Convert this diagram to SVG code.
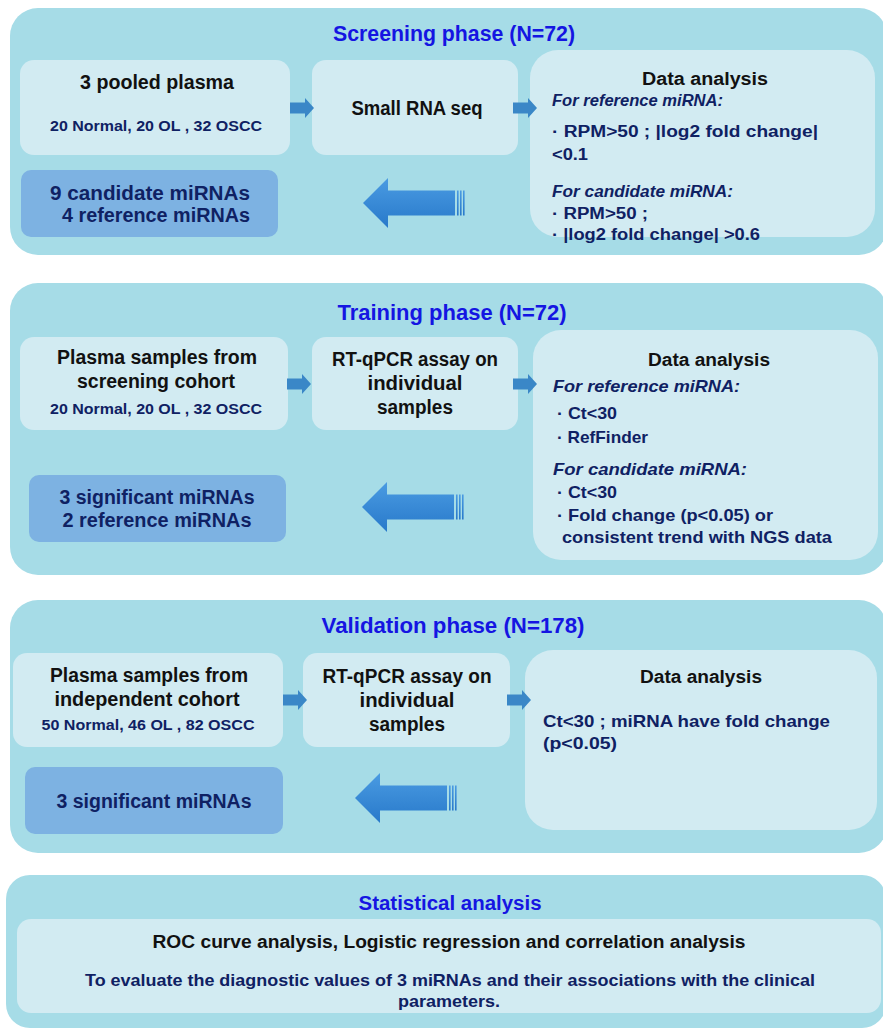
<svg xmlns="http://www.w3.org/2000/svg" xmlns:xlink="http://www.w3.org/1999/xlink" width="883" height="1030" viewBox="0 0 883 1030">
<defs>
<style>
text{font-family:"Liberation Sans",Arial,sans-serif;font-weight:bold}
.panel{fill:#a6dce7}
.box{fill:#d2ebf2}
.blue{fill:#7db2e2}
.title{fill:#1515e2;font-size:22px;text-anchor:middle}
.hd{fill:#111;font-size:20px;text-anchor:middle}
.sub{fill:#0f2163;font-size:14px;text-anchor:middle}
.res{fill:#0f2163;font-size:19.5px;text-anchor:middle}
.dh{fill:#111;font-size:17.5px;text-anchor:middle}
.it{fill:#0f2163;font-size:16px;font-style:italic}
.bl{fill:#0f2163;font-size:16px}
.it2{fill:#0f2163;font-size:17px;font-style:italic}
.bl2{fill:#0f2163;font-size:17px}
.sarrow{fill:#3a87c7}
</style>
<linearGradient id="bg" x1="0" y1="0" x2="0" y2="1">
<stop offset="0" stop-color="#4a9be2"/>
<stop offset="1" stop-color="#2879ca"/>
</linearGradient>
<path id="small" d="M0,-5.5 H15 V-10 L24,0 L15,10 V5.5 H0 Z"/>
<g id="big">
<path d="M0,0 L25,-25 V-12.5 H92 V12.5 H25 V25 Z" fill="url(#bg)"/>
<rect x="94" y="-12.5" width="1.6" height="25" fill="url(#bg)"/>
<rect x="97" y="-12.5" width="1.6" height="25" fill="url(#bg)"/>
<rect x="100" y="-12.5" width="1.6" height="25" fill="url(#bg)"/>
</g>
</defs>
<rect width="883" height="1030" fill="#ffffff"/>

<g id="panel-screening">
<rect class="panel" x="10" y="8" width="877" height="247" rx="28"/>
<text class="title" x="454" y="41" textLength="242" lengthAdjust="spacingAndGlyphs">Screening phase (N=72)</text>
</g>
<g id="node-pooled-plasma">
<rect class="box" x="20" y="60" width="270" height="95" rx="14"/>
<text class="hd" x="157" y="89" textLength="154" lengthAdjust="spacingAndGlyphs">3 pooled plasma</text>
<text class="sub" x="156" y="131" textLength="212" lengthAdjust="spacingAndGlyphs">20 Normal, 20 OL , 32 OSCC</text>
</g>
<g id="node-small-rna-seq">
<rect class="box" x="312" y="60" width="206" height="95" rx="14"/>
<text class="hd" x="417" y="115" textLength="131" lengthAdjust="spacingAndGlyphs">Small RNA seq</text>
</g>
<g id="node-data-analysis-1">
<rect class="box" x="530" y="50" width="345" height="187" rx="28"/>
<text class="dh" x="705" y="85" textLength="126" lengthAdjust="spacingAndGlyphs">Data analysis</text>
<text class="it" x="552" y="106" textLength="171" lengthAdjust="spacingAndGlyphs">For reference miRNA:</text>
<text class="bl" x="552" y="137" textLength="266" lengthAdjust="spacingAndGlyphs">· RPM&gt;50 ; |log2 fold change|</text>
<text class="bl" x="552" y="160" textLength="36" lengthAdjust="spacingAndGlyphs">&lt;0.1</text>
<text class="it" x="552" y="197" textLength="181" lengthAdjust="spacingAndGlyphs">For candidate miRNA:</text>
<text class="bl" x="552" y="219" textLength="96" lengthAdjust="spacingAndGlyphs">· RPM&gt;50 ;</text>
<text class="bl" x="552" y="240" textLength="208" lengthAdjust="spacingAndGlyphs">· |log2 fold change| &gt;0.6</text>
</g>
<g id="node-candidates-1">
<rect class="blue" x="21" y="170" width="257" height="67" rx="10"/>
<text class="res" x="150" y="200" textLength="200" lengthAdjust="spacingAndGlyphs">9 candidate miRNAs</text>
<text class="res" x="156" y="222" textLength="188" lengthAdjust="spacingAndGlyphs">4 reference miRNAs</text>
</g>

<g id="panel-training">
<rect class="panel" x="10" y="283" width="877" height="292" rx="28"/>
<text class="title" x="452" y="320" textLength="229" lengthAdjust="spacingAndGlyphs">Training phase (N=72)</text>
</g>
<g id="node-plasma-screening">
<rect class="box" x="20" y="337" width="268" height="93" rx="14"/>
<text class="hd" x="157" y="364" textLength="200" lengthAdjust="spacingAndGlyphs">Plasma samples from</text>
<text class="hd" x="156" y="388" textLength="158" lengthAdjust="spacingAndGlyphs">screening cohort</text>
<text class="sub" x="156" y="414" textLength="212" lengthAdjust="spacingAndGlyphs">20 Normal, 20 OL , 32 OSCC</text>
</g>
<g id="node-rtqpcr-2">
<rect class="box" x="312" y="337" width="206" height="93" rx="14"/>
<text class="hd" x="415" y="366" textLength="166" lengthAdjust="spacingAndGlyphs">RT-qPCR assay on</text>
<text class="hd" x="415" y="390" textLength="95" lengthAdjust="spacingAndGlyphs">individual</text>
<text class="hd" x="415" y="414" textLength="76" lengthAdjust="spacingAndGlyphs">samples</text>
</g>
<g id="node-data-analysis-2">
<rect class="box" x="533" y="330" width="345" height="230" rx="28"/>
<text class="dh" x="709" y="366" textLength="122" lengthAdjust="spacingAndGlyphs">Data analysis</text>
<text class="it2" x="553" y="392" textLength="187" lengthAdjust="spacingAndGlyphs">For reference miRNA:</text>
<text class="bl2" x="557" y="419" textLength="60" lengthAdjust="spacingAndGlyphs">· Ct&lt;30</text>
<text class="bl2" x="557" y="443" textLength="91" lengthAdjust="spacingAndGlyphs">· RefFinder</text>
<text class="it2" x="553" y="475" textLength="194" lengthAdjust="spacingAndGlyphs">For candidate miRNA:</text>
<text class="bl2" x="557" y="498" textLength="60" lengthAdjust="spacingAndGlyphs">· Ct&lt;30</text>
<text class="bl2" x="557" y="521" textLength="216" lengthAdjust="spacingAndGlyphs">· Fold change (p&lt;0.05) or</text>
<text class="bl2" x="562" y="543" textLength="270" lengthAdjust="spacingAndGlyphs">consistent trend with NGS data</text>
</g>
<g id="node-significant-2">
<rect class="blue" x="29" y="475" width="257" height="67" rx="10"/>
<text class="res" x="157" y="504" textLength="195" lengthAdjust="spacingAndGlyphs">3 significant miRNAs</text>
<text class="res" x="157" y="527" textLength="189" lengthAdjust="spacingAndGlyphs">2 reference miRNAs</text>
</g>

<g id="panel-validation">
<rect class="panel" x="10" y="600" width="877" height="253" rx="28"/>
<text class="title" x="453" y="633" textLength="263" lengthAdjust="spacingAndGlyphs">Validation phase (N=178)</text>
</g>
<g id="node-plasma-independent">
<rect class="box" x="13" y="653" width="270" height="94" rx="14"/>
<text class="hd" x="149" y="682" textLength="198" lengthAdjust="spacingAndGlyphs">Plasma samples from</text>
<text class="hd" x="147" y="706" textLength="185" lengthAdjust="spacingAndGlyphs">independent cohort</text>
<text class="sub" x="148" y="730" textLength="213" lengthAdjust="spacingAndGlyphs">50 Normal, 46 OL , 82 OSCC</text>
</g>
<g id="node-rtqpcr-3">
<rect class="box" x="303" y="653" width="207" height="94" rx="14"/>
<text class="hd" x="407" y="683" textLength="169" lengthAdjust="spacingAndGlyphs">RT-qPCR assay on</text>
<text class="hd" x="407" y="707" textLength="95" lengthAdjust="spacingAndGlyphs">individual</text>
<text class="hd" x="407" y="731" textLength="76" lengthAdjust="spacingAndGlyphs">samples</text>
</g>
<g id="node-data-analysis-3">
<rect class="box" x="525" y="650" width="352" height="180" rx="28"/>
<text class="dh" x="701" y="683" textLength="122" lengthAdjust="spacingAndGlyphs">Data analysis</text>
<text class="bl2" x="543" y="727" textLength="287" lengthAdjust="spacingAndGlyphs">Ct&lt;30 ; miRNA have fold change</text>
<text class="bl2" x="543" y="749" textLength="74" lengthAdjust="spacingAndGlyphs">(p&lt;0.05)</text>
</g>
<g id="node-significant-3">
<rect class="blue" x="25" y="767" width="258" height="67" rx="10"/>
<text class="res" x="154" y="808" textLength="195" lengthAdjust="spacingAndGlyphs">3 significant miRNAs</text>
</g>

<g id="node-statistical">
<rect class="panel" x="6" y="875" width="880" height="153" rx="24"/>
<text class="title" x="450" y="910" style="font-size:20px" textLength="183" lengthAdjust="spacingAndGlyphs">Statistical analysis</text>
<rect class="box" x="17" y="919" width="864" height="94" rx="14"/>
<text class="hd" x="449" y="948" style="font-size:18px" textLength="593" lengthAdjust="spacingAndGlyphs">ROC curve analysis, Logistic regression and correlation analysis</text>
<text class="sub" x="450" y="986" style="font-size:17px" textLength="730" lengthAdjust="spacingAndGlyphs">To evaluate the diagnostic values of 3 miRNAs and their associations with the clinical</text>
<text class="sub" x="449" y="1007" style="font-size:17px" textLength="102" lengthAdjust="spacingAndGlyphs">parameters.</text>
</g>

<g id="connectors">
<use href="#small" class="sarrow" x="290" y="108"/>
<use href="#small" class="sarrow" x="513" y="108"/>
<use href="#big" x="363" y="203"/>
<use href="#small" class="sarrow" x="287" y="384"/>
<use href="#small" class="sarrow" x="513" y="384"/>
<use href="#big" x="362" y="507"/>
<use href="#small" class="sarrow" x="283" y="700"/>
<use href="#small" class="sarrow" x="507" y="700"/>
<use href="#big" x="355" y="798"/>
</g>
</svg>
